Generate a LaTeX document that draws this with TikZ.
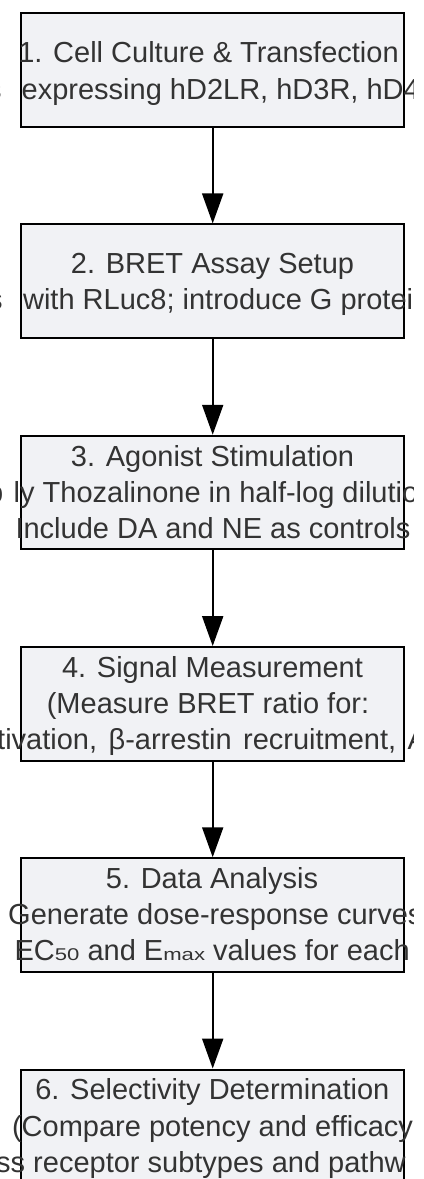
\documentclass[tikz,border=0pt]{standalone}
\usepackage{fontspec}
\setmainfont{Liberation Sans}
\usetikzlibrary{arrows.meta}
\definecolor{boxfill}{RGB}{241,242,245}
\definecolor{txtgray}{RGB}{51,51,51}
\newcommand{\subtxt}[1]{\scalebox{1.3}[1]{\fontsize{17bp}{17bp}\selectfont #1}}

\begin{document}
\begin{tikzpicture}[x=1bp,y=-1bp,
   stepbox/.style={draw=black,fill=boxfill,line width=2bp,minimum width=383.5bp,minimum height=113.5bp,inner sep=0pt},
   steptxt/.style={inner sep=0pt,text=txtgray,font=\fontsize{29bp}{36bp}\selectfont},
   flow/.style={-{Triangle[width=21bp,length=30bp]},line width=2bp}]
   \useasboundingbox (0,0) rectangle (423,1179);
   \node[stepbox] (s1) at (212.7,70) {};
   \node[stepbox] (s2) at (212.7,281.2) {};
   \node[stepbox] (s3) at (212.7,492.5) {};
   \node[stepbox] (s4) at (212.7,703.8) {};
   \node[stepbox] (s5) at (212.7,915) {};
   \node[stepbox] (s6) at (212.7,1126.3) {};
   \foreach \a/\b in {s1/s2,s2/s3,s3/s4,s4/s5,s5/s6} {
    \draw[flow] (\a) -- (\b);
   }
   \begin{scope}
    \clip (0,0) rectangle (413,1179);
    \node[steptxt,anchor=base] (t1a) at (208.5,62.7) {1. Cell Culture \& Transfection};
    \node[steptxt,anchor=base west] (t1b) at (-13,99) {s\hspace{20bp}expressing hD2LR, hD3R, hD4};
    \node[steptxt,anchor=base] (t2a) at (212.5,273.3) {2. BRET Assay Setup};
    \node[steptxt,anchor=base west] (t2b) at (-12,309.5) {s\hspace{20.4bp}with RLuc8; introduce G protei};
    \node[steptxt,anchor=base] (t3a) at (212.5,466) {3. Agonist Stimulation};
    \node[steptxt,anchor=base west] (t3b) at (-13.1,502.2) {p\hspace{10.5bp}ly Thozalinone in half-log dilutio};
    \node[steptxt,anchor=base] (t3c) at (213,538.4) {Include DA and NE as controls};
    \node[steptxt,anchor=base] (t4a) at (212.5,677.3) {4. Signal Measurement};
    \node[steptxt,anchor=base] (t4b) at (208,713.5) {(Measure BRET ratio for:};
    \node[steptxt,anchor=base west] (t4c) at (-3,749.7) {\spaceskip=11.5bp tivation, β-arrestin recruitment, A};
    \node[steptxt,anchor=base] (t5a) at (212,888.5) {5. Data Analysis};
    \node[steptxt,anchor=base west] (t5b) at (8,924.7) {Generate dose-response curves};
    \node[steptxt,anchor=base west] (t5c) at (14.4,960.9) {EC\subtxt{50} and E\subtxt{max} values for each};
    \node[steptxt,anchor=base] (t6a) at (212.3,1099.8) {6. Selectivity Determination};
    \node[steptxt,anchor=base] (t6b) at (212.5,1136) {(Compare potency and efficacy};
    \node[steptxt,anchor=base west] (t6c) at (-4,1172.2) {ss receptor subtypes and pathw};
   \end{scope}
  \end{tikzpicture}
\end{document}
